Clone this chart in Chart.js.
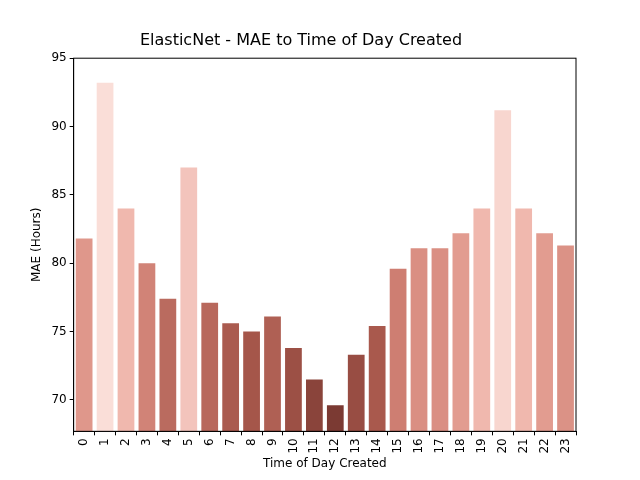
<!DOCTYPE html>
<html><head><script src="https://cdn.jsdelivr.net/npm/chart.js@4"></script>
<style>body{margin:0;background:#fff}#w{width:640px;height:480px}</style></head>
<body><div id="w"><canvas id="c"></canvas></div>
<script>
const hours = ["0","1","2","3","4","5","6","7","8","9","10","11","12","13","14","15","16","17","18","19","20","21","22","23"];
const mae = [81.8,93.2,84.0,80.0,77.4,87.0,77.1,75.6,75.0,76.1,73.8,71.5,69.6,73.3,75.4,79.6,81.1,81.1,82.2,84.0,91.2,84.0,82.2,81.3];
const stops = [[69.6,[123,58,51]],[75,[165,86,74]],[79.6,[206,126,114]],[82.2,[226,156,144]],[84,[240,184,174]],[93.2,[250,222,216]]];
function col(v){for(let i=1;i<stops.length;i++){if(v<=stops[i][0]){const a=stops[i-1],b=stops[i],t=(v-a[0])/(b[0]-a[0]);return 'rgb('+a[1].map((x,k)=>Math.round(x+(b[1][k]-x)*t)).join(',')+')';}}return 'rgb(250,222,216)';}
Chart.defaults.font.family='DejaVu Sans';Chart.defaults.color='#000';
const box={id:'box',afterDraw(c){const a=c.chartArea,x=c.ctx;x.save();x.strokeStyle='#000';x.lineWidth=1;x.strokeRect(a.left,a.top,a.right-a.left,a.bottom-a.top);x.restore();}};
const g={drawOnChartArea:false,drawTicks:true,tickLength:4,color:'#000'};
new Chart(document.getElementById('c'),{type:'bar',plugins:[box],
data:{labels:hours,datasets:[{data:mae,backgroundColor:mae.map(col),categoryPercentage:1,barPercentage:0.8}]},
options:{responsive:true,maintainAspectRatio:false,animation:false,
layout:{padding:{left:26,right:64,top:31,bottom:9}},
plugins:{legend:{display:false},title:{display:true,text:'ElasticNet - MAE to Time of Day Created',font:{size:16,weight:'normal'},padding:{bottom:8}}},
scales:{x:{grid:g,border:{color:'#000'},ticks:{maxRotation:90,minRotation:90,font:{size:12}},title:{display:true,text:'Time of Day Created',font:{size:12},padding:0}},
y:{min:67.7,max:95,grid:g,border:{color:'#000'},ticks:{font:{size:12}},title:{display:true,text:'MAE (Hours)',font:{size:12}},afterBuildTicks:a=>{a.ticks=[70,75,80,85,90,95].map(v=>({value:v}));}}}}});
</script></body></html>
